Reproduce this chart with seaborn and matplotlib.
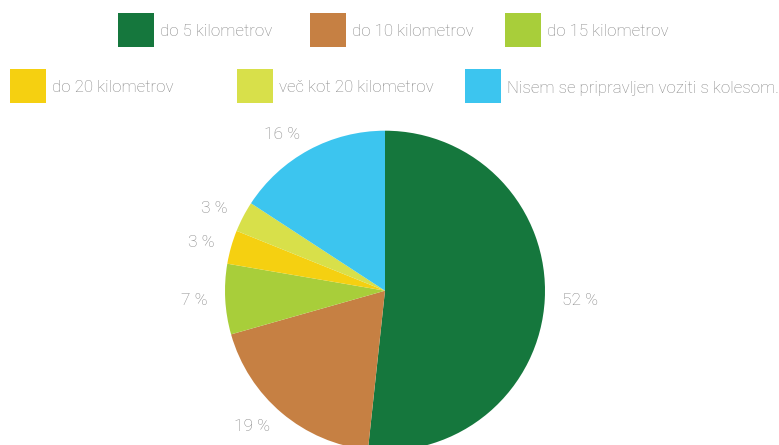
import matplotlib
matplotlib.use("Agg")
import matplotlib.pyplot as plt
import seaborn as sns
from matplotlib.patches import Rectangle

categories = ["do 5 kilometrov", "do 10 kilometrov", "do 15 kilometrov",
              "do 20 kilometrov", "več kot 20 kilometrov",
              "Nisem se pripravljen voziti s kolesom."]
values = [51.7, 18.9, 7.1, 3.4, 3.1, 15.8]
labels = ["52 %", "19 %", "7 %", "3 %", "3 %", "16 %"]
colors = ["#15773D", "#C68043", "#A8CE3A", "#F5D011", "#D8E04A", "#3CC5EF"]

sns.set_theme(style="white")
plt.rcParams['font.family'] = ['Roboto', 'DejaVu Sans']
palette = sns.color_palette(colors)

W, H = 779, 445
fig = plt.figure(figsize=(W / 100, H / 100), dpi=100)

cx, cy, r = 385, 290.7, 160
ax = fig.add_axes([(cx - r) / W, (H - cy - r) / H, 2 * r / W, 2 * r / H])
wedges, texts = ax.pie(values, labels=labels, colors=palette, startangle=90,
                       counterclock=False, labeldistance=1.11,
                       wedgeprops=dict(linewidth=0),
                       textprops=dict(color="#858585", fontsize=12.5,
                                      fontweight="light"))
ax.set_xlim(-1, 1)
ax.set_ylim(-1, 1)
ax.set_aspect("equal")

# legend items: (swatch left x px, swatch top y px)
legend_pos = [(118, 13), (310, 13), (505, 13), (10, 69), (237, 69), (465, 69)]
sw, sh = 36, 34
for (lx, ty), cat, col in zip(legend_pos, categories, palette):
    fig.add_artist(Rectangle((lx / W, 1 - (ty + sh) / H), sw / W, sh / H,
                             transform=fig.transFigure, facecolor=col,
                             edgecolor="none"))
    fig.text((lx + sw + 6) / W, 1 - (ty + sh / 2 + 2) / H, cat,
             ha="left", va="center", fontsize=12.2, fontweight="light",
             color="#858585")

fig.savefig("out.png", dpi=100)
